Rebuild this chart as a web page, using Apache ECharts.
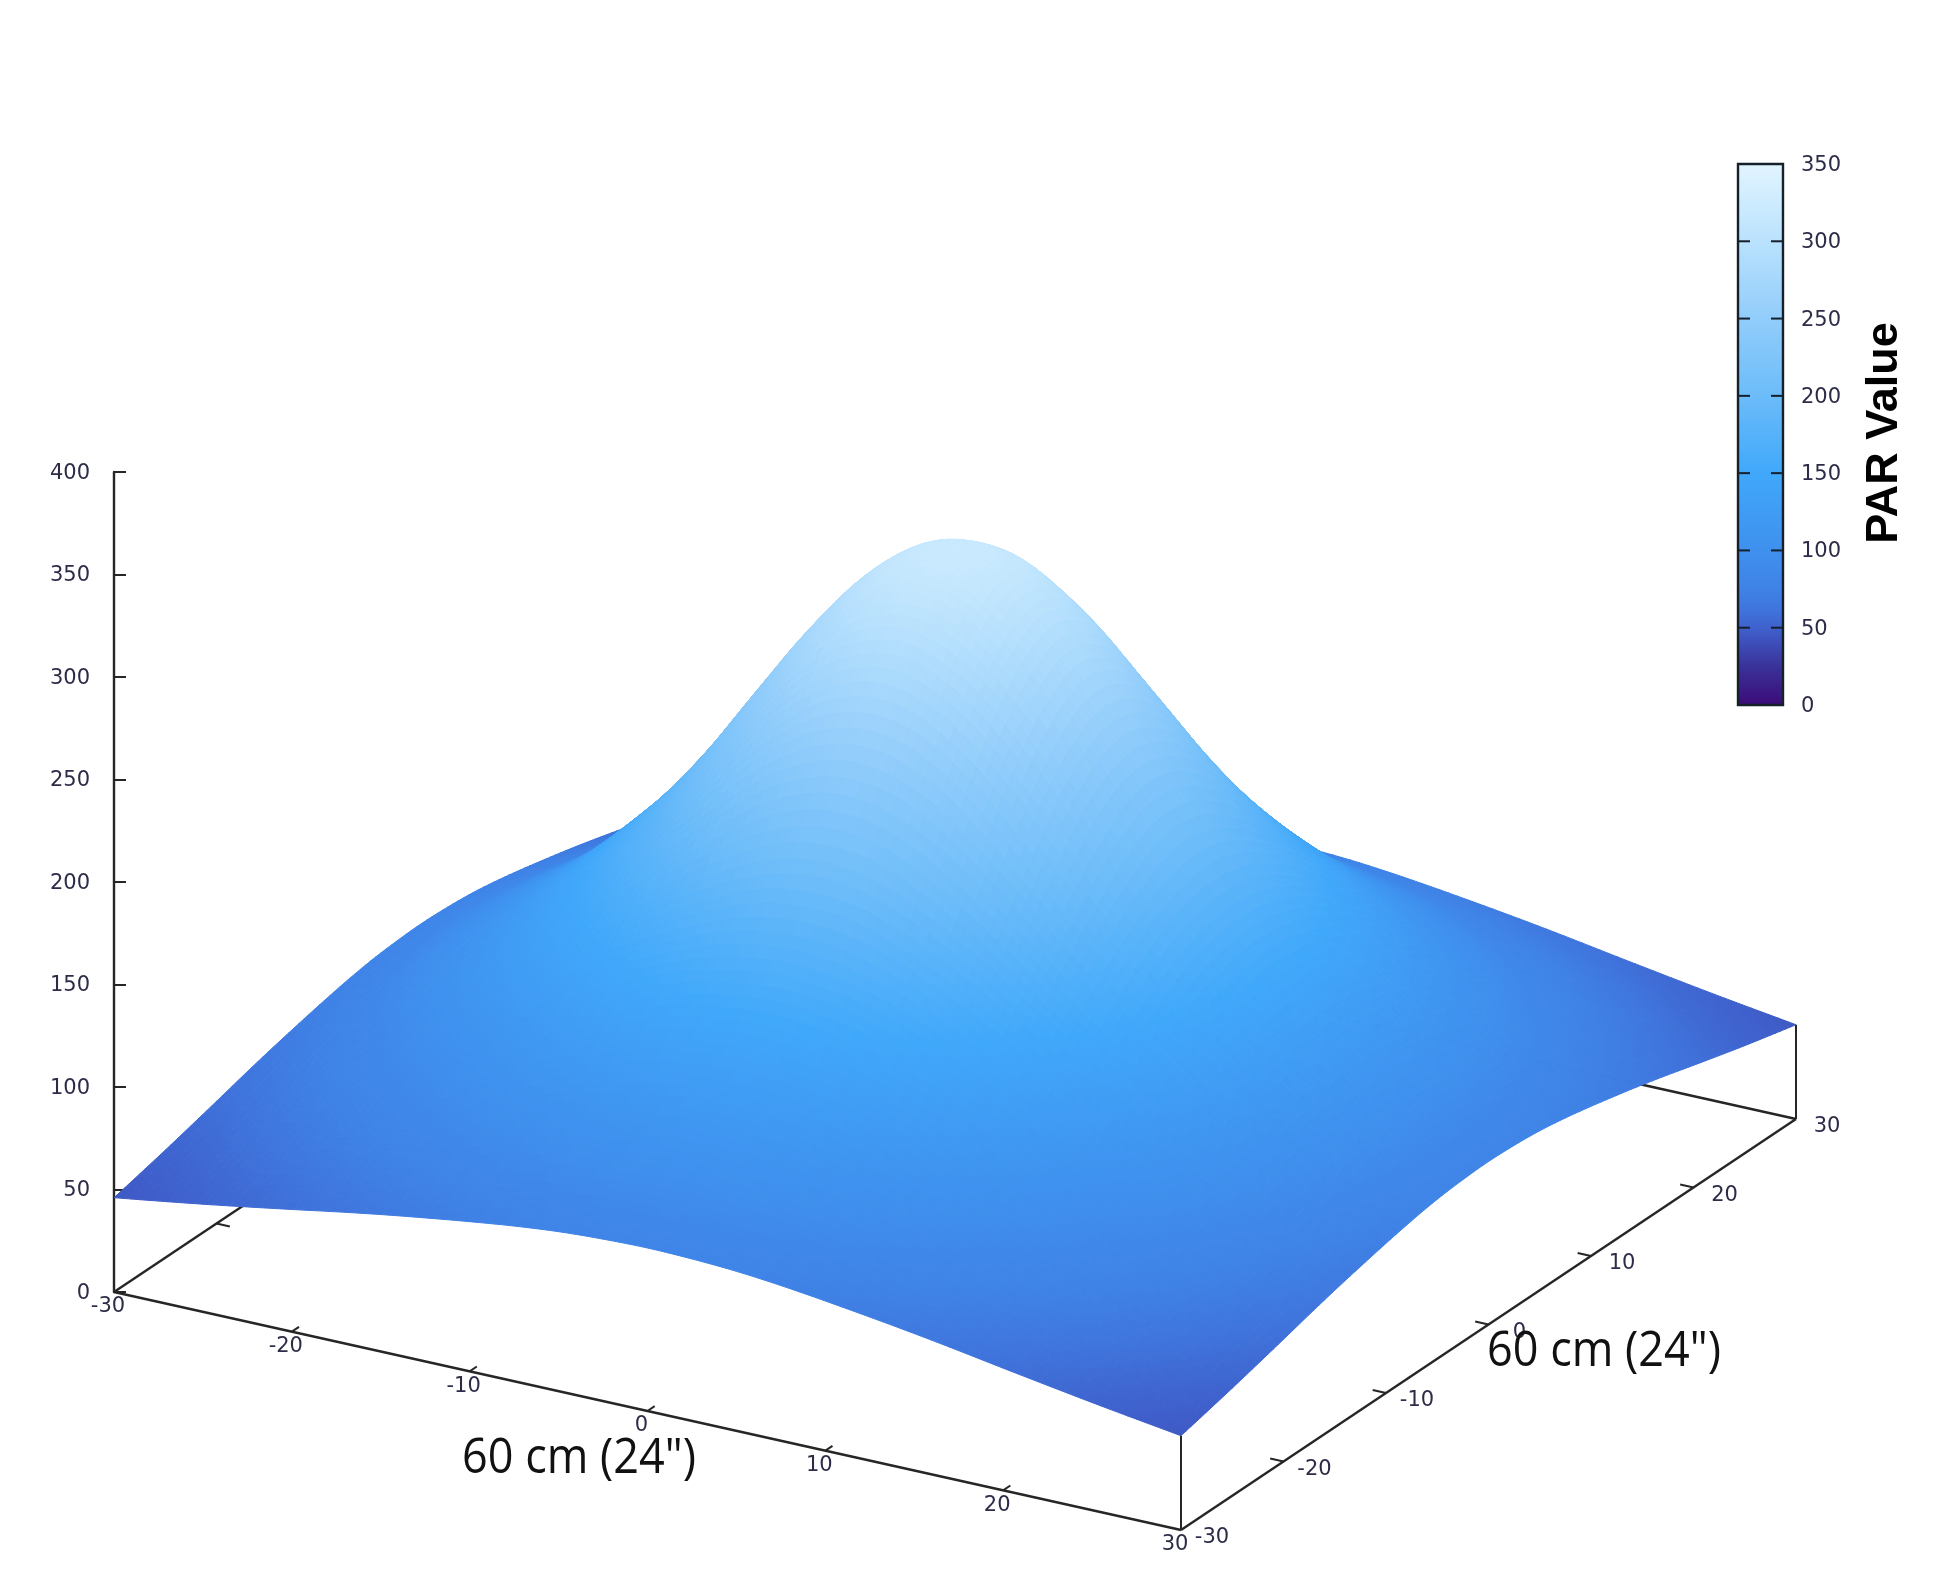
<!DOCTYPE html>
<html><head><meta charset="utf-8">
<style>html,body{margin:0;padding:0;background:#fff}#c{width:1960px;height:1574px}</style>
<script src="https://cdn.jsdelivr.net/npm/echarts@6/dist/echarts.min.js"></script>
</head><body><div id="c"></div>
<script>
// Axis ticks
const xyTicks = [-30,-20,-10,0,10,20,30];
const zTicks = [0,50,100,150,200,250,300,350,400];
const barLabels = [0,50,100,150,200,250,300,350];
const barTicks = [50,100,150,200,250,300];
const gridStep = 2.5;
// PAR values, one row per y position, x from -30 to 30
const rowYm300 = [46,49.2,52.5,56,59.6,63.3,66.8,70,73,75.7,77.8,79,79.5,79,77.8,75.7,73,70,66.8,63.3,59.6,56,52.5,49.2,46];
const rowYm275 = [49.2,52.4,56.2,60.6,65.2,69.8,74,78,81.8,85,87.4,89,89.6,89,87.4,85,81.8,78,74,69.8,65.2,60.6,56.2,52.4,49.2];
const rowYm250 = [52.5,56.2,61,67,72,77,82,88,93,98,101,103,104,103,101,98,93,88,82,77,72,67,61,56.2,52.5];
const rowYm225 = [56,60.6,67,72,79,85,92,100,106,111,115,118,119,118,115,111,106,100,92,85,79,72,67,60.6,56];
const rowYm200 = [59.6,65.2,72,79,86,95,104,112,120,127,133,136,137,136,133,127,120,112,104,95,86,79,72,65.2,59.6];
const rowYm175 = [63.3,69.8,77,85,95,105,115,126,136,145,152,156,158,156,152,145,136,126,115,105,95,85,77,69.8,63.3];
const rowYm150 = [66.8,74,82,92,104,115,128,141,153,164,173,179,181,179,173,164,153,141,128,115,104,92,82,74,66.8];
const rowYm125 = [70,78,88,100,112,126,141,156,171,185,197,206,209,206,197,185,171,156,141,126,112,100,88,78,70];
const rowYm100 = [73,81.8,93,106,120,136,153,171,190,209,226,237,241,237,226,209,190,171,153,136,120,106,93,81.8,73];
const rowYm75  = [75.7,85,98,111,127,145,164,185,209,233,253,267,272,267,253,233,209,185,164,145,127,111,98,85,75.7];
const rowYm50  = [77.8,87.4,101,115,133,152,173,197,226,253,277,292,298,292,277,253,226,197,173,152,133,115,101,87.4,77.8];
const rowYm25  = [79,89,103,118,136,156,179,206,237,267,292,310,315,310,292,267,237,206,179,156,136,118,103,89,79];
const rowY0    = [79.5,89.6,104,119,137,158,181,209,241,272,298,315,320,315,298,272,241,209,181,158,137,119,104,89.6,79.5];
const rowY25   = [79,89,103,118,136,156,179,206,237,267,292,310,315,310,292,267,237,206,179,156,136,118,103,89,79];
const rowY50   = [77.8,87.4,101,115,133,152,173,197,226,253,277,292,298,292,277,253,226,197,173,152,133,115,101,87.4,77.8];
const rowY75   = [75.7,85,98,111,127,145,164,185,209,233,253,267,272,267,253,233,209,185,164,145,127,111,98,85,75.7];
const rowY100  = [73,81.8,93,106,120,136,153,171,190,209,226,237,241,237,226,209,190,171,153,136,120,106,93,81.8,73];
const rowY125  = [70,78,88,100,112,126,141,156,171,185,197,206,209,206,197,185,171,156,141,126,112,100,88,78,70];
const rowY150  = [66.8,74,82,92,104,115,128,141,153,164,173,179,181,179,173,164,153,141,128,115,104,92,82,74,66.8];
const rowY175  = [63.3,69.8,77,85,95,105,115,126,136,145,152,156,158,156,152,145,136,126,115,105,95,85,77,69.8,63.3];
const rowY200  = [59.6,65.2,72,79,86,95,104,112,120,127,133,136,137,136,133,127,120,112,104,95,86,79,72,65.2,59.6];
const rowY225  = [56,60.6,67,72,79,85,92,100,106,111,115,118,119,118,115,111,106,100,92,85,79,72,67,60.6,56];
const rowY250  = [52.5,56.2,61,67,72,77,82,88,93,98,101,103,104,103,101,98,93,88,82,77,72,67,61,56.2,52.5];
const rowY275  = [49.2,52.4,56.2,60.6,65.2,69.8,74,78,81.8,85,87.4,89,89.6,89,87.4,85,81.8,78,74,69.8,65.2,60.6,56.2,52.4,49.2];
const rowY300  = [46,49.2,52.5,56,59.6,63.3,66.8,70,73,75.7,77.8,79,79.5,79,77.8,75.7,73,70,66.8,63.3,59.6,56,52.5,49.2,46];
const rows = [rowYm300,rowYm275,rowYm250,rowYm225,rowYm200,rowYm175,rowYm150,rowYm125,rowYm100,rowYm75,rowYm50,rowYm25,rowY0,
  rowY25,rowY50,rowY75,rowY100,rowY125,rowY150,rowY175,rowY200,rowY225,rowY250,rowY275,rowY300];
// Colour scale
const scaleVals = [0,25,50,62,75,100,150,200,250,300,350];
const scaleCols = ['#3c0a78','#3a3198','#3f60cc','#3f74dc','#3f82e6','#3f90ee','#40a8fa','#6cbcf9','#92cdfb','#bae2fd','#e2f5ff'];

const OX=114, OY=1292, XX=1067, XY=238, YX=615, YY=-411, ZS=2.05;
function proj(x,y,z){const a=(x+30)/60,b=(y+30)/60;return [OX+a*XX+b*YX, OY+a*XY+b*YY-z*ZS];}
function hex(c){return [1,3,5].map(i=>parseInt(c.substr(i,2),16));}
const scaleRgb=scaleCols.map(hex);
function colorAt(v){
  let i=0; while(i<scaleVals.length-2&&v>scaleVals[i+1])i++;
  const t=Math.max(0,Math.min(1,(v-scaleVals[i])/(scaleVals[i+1]-scaleVals[i])));
  const a=scaleRgb[i],b=scaleRgb[i+1];
  return 'rgb('+a.map((p,k)=>Math.round(p+(b[k]-p)*t)).join(',')+')';
}
// smooth drawing of each measured cell
function cr(p0,p1,p2,p3,t){return 0.5*(2*p1+(p2-p0)*t+(2*p0-5*p1+4*p2-p3)*t*t+(3*p1-p0-3*p2+p3)*t*t*t);}
const N=rows.length;
function at(i,j){
  const ci=Math.max(0,Math.min(N-1,i)),cj=Math.max(0,Math.min(N-1,j));
  let v=rows[cj][ci];
  if(i<0)v=2*rows[cj][0]-rows[cj][1]; else if(i>N-1)v=2*rows[cj][N-1]-rows[cj][N-2];
  if(j<0)v=2*rows[0][ci]-rows[1][ci]; else if(j>N-1)v=2*rows[N-1][ci]-rows[N-2][ci];
  return v;
}
function surf(i,j,u,v){
  const c=[];
  for(let m=-1;m<=2;m++)c.push(cr(at(i-1,j+m),at(i,j+m),at(i+1,j+m),at(i+2,j+m),u));
  return cr(c[0],c[1],c[2],c[3],v);
}
const SUB=5;
const cells=[];
for(let j=N-2;j>=0;j--)for(let i=0;i<N-1;i++)cells.push([i,j]);

function renderCell(params,api){
  const i=api.value(0),j=api.value(1),kids=[];
  const pt=(p,q)=>{const z=surf(i,j,p/SUB,q/SUB);const w=proj(-30+gridStep*(i+p/SUB),-30+gridStep*(j+q/SUB),z);return {c:api.coord(w),z};};
  for(let q=SUB-1;q>=0;q--)for(let p=0;p<SUB;p++){
    const a=pt(p,q),b=pt(p+1,q),c=pt(p+1,q+1),d=pt(p,q+1);
    const col=colorAt((a.z+b.z+c.z+d.z)/4);
    kids.push({type:'polygon',shape:{points:[a.c,b.c,c.c,d.c]},style:{fill:col,stroke:col,lineWidth:1},silent:true});
  }
  return {type:'group',children:kids};
}
const frameItems=[];
function addLine(a,b,w){frameItems.push(['line',a[0],a[1],b[0],b[1],w||2.4]);}
addLine(proj(-30,-30,0),proj(30,-30,0));
addLine(proj(30,-30,0),proj(30,30,0));
addLine(proj(-30,-30,0),proj(-30,30,0));
addLine(proj(-30,30,0),proj(30,30,0));
addLine(proj(30,-30,0),proj(30,-30,rowYm300[24]),2);
addLine(proj(30,30,0),proj(30,30,rowY300[24]),2);
xyTicks.forEach(t=>{
  if(t>-30&&t<30){
    addLine(proj(t,-30,0),proj(t,-29.3,0),2);
    addLine(proj(30,t,0),proj(29.25,t,0),2);
    addLine(proj(-30,t,0),proj(-29.25,t,0),2);
  }
});
function renderFrame(params,api){
  const a=api.coord([api.value(1),api.value(2)]),b=api.coord([api.value(3),api.value(4)]);
  return {type:'line',shape:{x1:a[0],y1:a[1],x2:b[0],y2:b[1]},style:{stroke:'#262626',lineWidth:api.value(5)},silent:true};
}
const tickFont='21px "DejaVu Sans", sans-serif', tickCol='#2c2c48';
const labelItems=[];
xyTicks.forEach(t=>{
  const a=proj(t,-30,0); labelItems.push([a[0]-6,a[1]+15,t]);
  const b=proj(30,t,0); labelItems.push([b[0]+31,b[1]+8,t]);
});
function renderLabel(params,api){
  const p=api.coord([api.value(0),api.value(1)]);
  return {type:'text',x:p[0],y:p[1],style:{text:String(api.value(2)),font:tickFont,fill:tickCol,align:'center',verticalAlign:'middle'},silent:true};
}
function renderZLabel(params,api){
  const p=api.coord([0,api.value(0)]);
  return {type:'text',x:p[0]-24,y:p[1]+1.5,style:{text:String(api.value(0)),font:tickFont,fill:tickCol,align:'right',verticalAlign:'middle'},silent:true};
}
function renderBarLabel(params,api){
  const p=api.coord([1,api.value(0)]);
  return {type:'text',x:p[0]+18,y:p[1]+1.5,style:{text:String(api.value(0)),font:tickFont,fill:tickCol,align:'left',verticalAlign:'middle'},silent:true};
}
function renderBar(params,api){
  const a=api.coord([0,350]),b=api.coord([1,0]);
  const stops=scaleVals.map((v,i)=>({offset:1-v/350,color:scaleCols[i]})).reverse();
  const kids=[{type:'rect',shape:{x:a[0],y:a[1],width:b[0]-a[0],height:b[1]-a[1]},
    style:{fill:new echarts.graphic.LinearGradient(0,0,0,1,stops),stroke:'#15202b',lineWidth:2.4},silent:true}];
  barTicks.forEach(t=>{
    const p=api.coord([0,t]),q=api.coord([1,t]);
    kids.push({type:'line',shape:{x1:p[0],y1:p[1],x2:p[0]+12,y2:p[1]},style:{stroke:'#15202b',lineWidth:2},silent:true});
    kids.push({type:'line',shape:{x1:q[0]-12,y1:q[1],x2:q[0],y2:q[1]},style:{stroke:'#15202b',lineWidth:2},silent:true});
  });
  return {type:'group',children:kids};
}
const chart=echarts.init(document.getElementById('c'),null,{renderer:'canvas'});
chart.setOption({
  animation:false,backgroundColor:'#fff',
  grid:[
    {left:0,top:0,width:1960,height:1574,show:false},
    {left:114,top:472,width:20,height:820,show:false},
    {left:1738,top:164,width:45,height:541,show:false}
  ],
  xAxis:[
    {type:'value',gridIndex:0,min:0,max:1960,show:false},
    {type:'value',gridIndex:1,min:0,max:1,show:false},
    {type:'value',gridIndex:2,min:0,max:1,show:false}
  ],
  yAxis:[
    {type:'value',gridIndex:0,min:0,max:1574,inverse:true,show:false},
    {type:'value',gridIndex:1,min:0,max:400,interval:50,position:'left',z:0,
      axisLine:{show:true,onZero:false,lineStyle:{color:'#262626',width:2.4}},
      axisTick:{show:true,inside:true,length:12,lineStyle:{color:'#262626',width:2}},
      splitLine:{show:false},axisLabel:{show:false}},
    {type:'value',gridIndex:2,min:0,max:350,interval:50,position:'right',show:false}
  ],
  series:[
    {type:'custom',name:'frame',xAxisIndex:0,yAxisIndex:0,z:1,clip:false,data:frameItems,
      dimensions:['k','x1','y1','x2','y2','w'],encode:{x:1,y:2},renderItem:renderFrame},
    {type:'custom',name:'surface',xAxisIndex:0,yAxisIndex:0,z:3,clip:false,data:cells,progressive:0,
      encode:{x:0,y:1},renderItem:renderCell},
    {type:'custom',name:'labels',xAxisIndex:0,yAxisIndex:0,z:4,clip:false,data:labelItems,
      encode:{x:0,y:1},renderItem:renderLabel},
    {type:'custom',name:'zLabels',xAxisIndex:1,yAxisIndex:1,z:4,clip:false,data:zTicks.map(v=>[v]),
      encode:{y:0},renderItem:renderZLabel},
    {type:'custom',name:'colorbar',xAxisIndex:2,yAxisIndex:2,z:3,clip:false,data:[[0,0]],
      encode:{x:0,y:1},renderItem:renderBar},
    {type:'custom',name:'barLabels',xAxisIndex:2,yAxisIndex:2,z:4,clip:false,data:barLabels.map(v=>[v]),
      encode:{y:0},renderItem:renderBarLabel}
  ],
  graphic:[
    {type:'text',x:462,y:1434,scaleY:1.1,z:10,style:{text:'60 cm (24")',font:'45px "Open Sans", sans-serif',fill:'#111'}},
    {type:'text',x:1487,y:1327,scaleY:1.1,z:10,style:{text:'60 cm (24")',font:'45px "Open Sans", sans-serif',fill:'#111'}},
    {type:'text',x:1885,y:433,rotation:Math.PI/2,z:10,
      style:{text:'PAR Value',font:'bold 45px "Liberation Sans", sans-serif',fill:'#000',align:'center',verticalAlign:'middle'}}
  ]
});
</script></body></html>
